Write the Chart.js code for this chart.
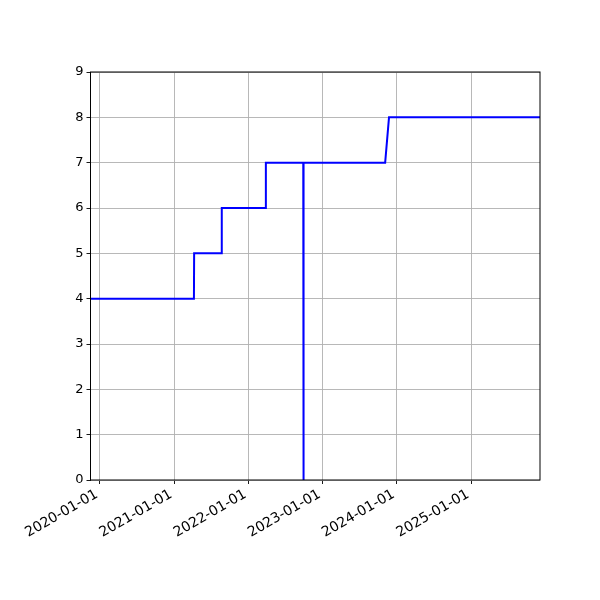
<!DOCTYPE html>
<html>
<head>
<meta charset="utf-8">
<script src="https://cdn.jsdelivr.net/npm/chart.js@4"></script>
<style>
  html, body { margin: 0; padding: 0; background: #fff; }
  #wrap { width: 600px; height: 600px; }
</style>
</head>
<body>
<div id="wrap"><canvas id="chart" width="600" height="600"></canvas></div>
<script>
// dates where the value changes
const dates = [
  "2019-11-16", "2021-04-08", "2021-04-09", "2021-08-22", "2021-08-23",
  "2022-03-27", "2022-03-28", "2022-09-28", "2022-09-29", "2022-09-30",
  "2023-11-05", "2023-11-24", "2025-12-06"
];
const values = [4, 4, 5, 5, 6, 6, 7, 7, 0, 7, 7, 8, 8];
const tickYears = [2020, 2021, 2022, 2023, 2024, 2025];
const yTicks = [0, 1, 2, 3, 4, 5, 6, 7, 8, 9];

const toMs = s => Date.parse(s + "T00:00:00Z");
const points = dates.map((d, i) => ({ x: toMs(d), y: values[i] }));

const fmt = ms => new Date(ms).toISOString().slice(0, 10);

// full black frame around the plot area
const framePlugin = {
  id: "frame",
  afterDraw(chart) {
    const { ctx, chartArea: a } = chart;
    ctx.save();
    ctx.strokeStyle = "#000";
    ctx.lineWidth = 1;
    ctx.strokeRect(a.left, a.top, a.right - a.left, a.bottom - a.top);
    ctx.restore();
  }
};

new Chart(document.getElementById("chart").getContext("2d"), {
  type: "line",
  data: {
    datasets: [{
      data: points,
      borderColor: "#0000ff",
      borderWidth: 2,
      pointRadius: 0,
      tension: 0,
      fill: false
    }]
  },
  options: {
    responsive: false,
    animation: false,
    layout: { padding: { top: 72, right: 60, left: 0, bottom: 0 } },
    plugins: { legend: { display: false }, tooltip: { enabled: false } },
    scales: {
      x: {
        type: "linear",
        min: toMs(dates[0]),
        max: toMs(dates[dates.length - 1]),
        afterBuildTicks: s => { s.ticks = tickYears.map(y => ({ value: Date.UTC(y, 0, 1) })); },
        afterFit: s => { s.height = 120; },
        border: { display: false },
        grid: { color: "#b0b0b0", lineWidth: 0.9, tickColor: "#000", tickLength: 4 },
        ticks: {
          color: "#000",
          font: { family: "DejaVu Sans", size: 14 },
          minRotation: 30,
          maxRotation: 30,
          padding: 2,
          labelOffset: -3,
          callback: v => fmt(v)
        }
      },
      y: {
        min: 0,
        max: 9,
        afterBuildTicks: s => { s.ticks = yTicks.map(v => ({ value: v })); },
        afterFit: s => { s.width = 90.5; },
        border: { display: false },
        grid: { color: "#b0b0b0", lineWidth: 0.9, tickColor: "#000", tickLength: 4 },
        ticks: { color: "#000", font: { family: "DejaVu Sans", size: 13 }, padding: 3 }
      }
    }
  },
  plugins: [framePlugin]
});
</script>
</body>
</html>
